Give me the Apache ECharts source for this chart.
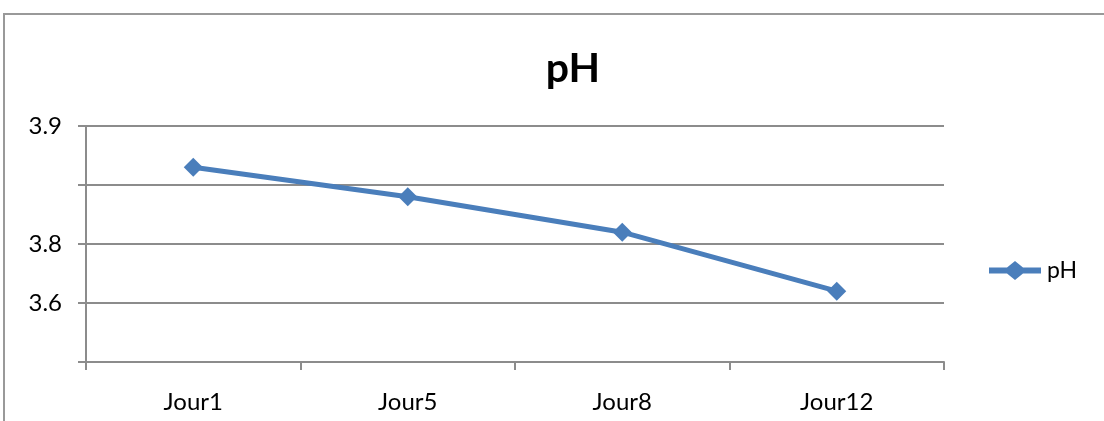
<!DOCTYPE html>
<html>
<head>
<meta charset="utf-8">
<script src="https://cdn.jsdelivr.net/npm/echarts@6/dist/echarts.min.js"></script>
<style>
  html, body { margin: 0; padding: 0; background: #fff; }
  #frame { position: absolute; left: 3px; top: 13px; width: 1200px; height: 500px;
    border-left: 2px solid #999; border-top: 2px solid #999; }
  #chart { position: absolute; left: 0; top: 0; width: 1104px; height: 421px; }
</style>
</head>
<body>
<div id="frame"></div>
<div id="chart"></div>
<script>
const categories = ['Jour1', 'Jour5', 'Jour8', 'Jour12']
const phValues = [3.83, 3.78, 3.72, 3.62]
// tick labels from bottom (3.5) to top (3.9), as printed on the original
const yTickLabels = ['', '3.6', '3.8', '', '3.9']

const axisGray = '#8c8c8c'
const font = 'Lato'
const chart = echarts.init(document.getElementById('chart'))

chart.setOption({
  animation: false,
  title: {
    text: 'pH',
    left: 568,
    top: 43,
    textAlign: 'center',
    textStyle: { fontFamily: font, fontSize: 41, fontWeight: 'bold', color: '#000' },
  },
  legend: {
    left: 984,
    top: 254,
    itemWidth: 54,
    itemHeight: 19,
    itemGap: 12,
    textStyle: { fontFamily: font, fontSize: 23, color: '#000' },
    data: [{ name: 'pH', icon: 'path://M0,6.5 H18 L26,0 L34,6.5 H52 V12.5 H34 L26,19 L18,12.5 H0 Z' }],
  },
  grid: {
    left: 86,
    right: 160,
    top: 126,
    bottom: 59,
  },
  xAxis: {
    type: 'category',
    data: categories,
    boundaryGap: true,
    axisLine: { lineStyle: { color: axisGray, width: 2 } },
    axisTick: { show: true, length: 8, lineStyle: { color: axisGray, width: 2 } },
    axisLabel: { fontFamily: font, fontSize: 24, color: '#000', margin: 28 },
  },
  yAxis: {
    type: 'value',
    min: 3.5,
    max: 3.9,
    interval: 0.1,
    axisLine: { show: true, lineStyle: { color: axisGray, width: 2 } },
    axisTick: { show: true, length: 8, lineStyle: { color: axisGray, width: 2 } },
    splitLine: { lineStyle: { color: axisGray, width: 2 } },
    axisLabel: {
      fontFamily: font,
      fontSize: 24,
      color: '#000',
      margin: 24,
      formatter: (v) => yTickLabels[Math.round((v - 3.5) * 10)] ?? '',
    },
  },
  series: [
    {
      name: 'pH',
      type: 'line',
      data: phValues,
      symbol: 'diamond',
      symbolSize: 19,
      lineStyle: { color: '#4a7ebb', width: 5 },
      itemStyle: { color: '#4a7ebb' },
    },
  ],
})
</script>
</body>
</html>
